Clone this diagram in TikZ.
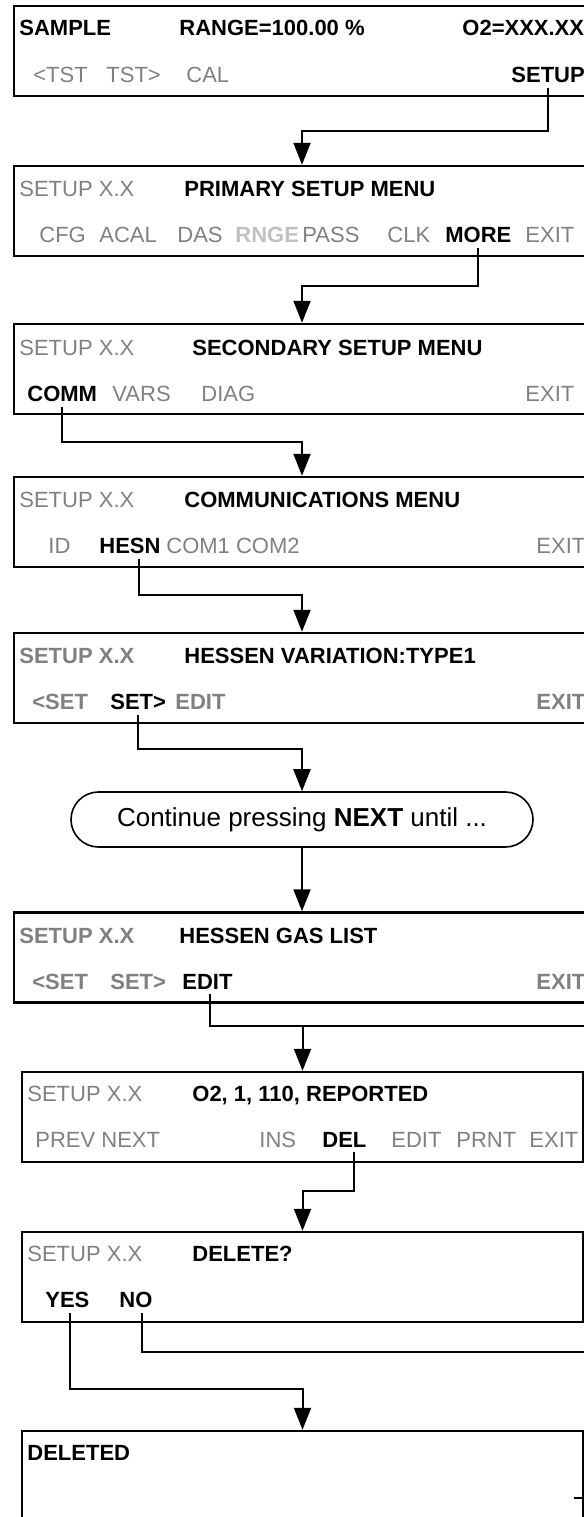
\documentclass[tikz,border=0pt]{standalone}
\usepackage{fontspec}
\setmainfont{Liberation Sans}
\usetikzlibrary{arrows.meta, calc, shapes.misc}
\definecolor{keydim}{RGB}{128,128,128}
\definecolor{keyoff}{RGB}{192,192,192}
\newcommand{\lcd}{\fontsize{11}{13}\selectfont}

\begin{document}
\begin{tikzpicture}[x=0.5pt, y=-0.5pt,
  screen/.style={rectangle, draw=black, line width=1.2pt, minimum height=45pt, inner sep=0pt},
  wide/.style={screen, minimum width=288pt},
  narrow/.style={screen, minimum width=280.5pt},
  key/.style={anchor=base west, inner sep=0pt, font=\lcd\bfseries},
  dim/.style={anchor=base west, inner sep=0pt, font=\lcd, text=keydim},
  dimb/.style={key, text=keydim},
  off/.style={key, text=keyoff},
  note/.style={rounded rectangle, draw=black, line width=0.8pt, minimum width=231pt, minimum height=27.5pt, inner sep=0pt, font=\fontsize{13}{15}\selectfont},
  link/.style={-{Triangle[length=11pt, width=8.5pt]}, line width=1pt},
  wire/.style={line width=1pt}
]
\path[use as bounding box, clip] (0,0) rectangle (584,1517);

% screens
\node[wide] (b1) at (302,51) {};
\node[wide] (b2) at (302,211) {};
\node[wide] (b3) at (302,369) {};
\node[wide] (b4) at (302,522) {};
\node[wide] (b5) at (302,678) {};
\node[note] (cont) at (302,819.5) {Continue pressing \textbf{NEXT} until ...};
\node[wide] (b6) at (302,957.5) {};
\node[narrow] (b7) at (302.5,1117) {};
\node[narrow] (b8) at (302.5,1277) {};
\node[narrow] (b9) at (302.5,1476) {};

% sample display
\node[key] (smp) at (19,35) {SAMPLE};
\node[key] (rng) at (179,35) {RANGE=100.00 \%};
\node[key] (conc) at (462,35) {O2=XXX.XX};
\node[dim] (tstl) at (33,82) {<TST};
\node[dim] (tstr) at (106,82) {TST>};
\node[dim] (cal) at (186,82) {CAL};
\node[key] (setup) at (511,82) {SETUP};

% primary setup
\node[dim] (v2) at (19,196) {SETUP X.X};
\node[key] (t2) at (184,196) {PRIMARY SETUP MENU};
\node[dim] (cfg) at (39,242) {CFG};
\node[dim] (acal) at (99,242) {ACAL};
\node[dim] (das) at (177,242) {DAS};
\node[off] (rnge) at (235,242) {RNGE};
\node[dim] (pass) at (302,242) {PASS};
\node[dim] (clk) at (387,242) {CLK};
\node[key] (more) at (445,242) {MORE};
\node[dim] (x2) at (525,242) {EXIT};

% secondary setup
\node[dim] (v3) at (19,355) {SETUP X.X};
\node[key] (t3) at (192,355) {SECONDARY SETUP MENU};
\node[key] (comm) at (27,401) {COMM};
\node[dim] (vars) at (112,401) {VARS};
\node[dim] (diag) at (201,401) {DIAG};
\node[dim] (x3) at (525,401) {EXIT};

% communications
\node[dim] (v4) at (19,507) {SETUP X.X};
\node[key] (t4) at (184,507) {COMMUNICATIONS MENU};
\node[dim] (id) at (48,553) {ID};
\node[key] (hesn) at (99,553) {HESN};
\node[dim] (com) at (166,553) {COM1 COM2};
\node[dim] (x4) at (536,553) {EXIT};

% hessen variation
\node[dimb] (v5) at (19,663) {SETUP X.X};
\node[key] (t5) at (184,663) {HESSEN VARIATION:TYPE1};
\node[dimb] (prv5) at (32,709) {<SET};
\node[key] (nxt5) at (110,709) {SET>};
\node[dimb] (ed5) at (175,709) {EDIT};
\node[dimb] (x5) at (536,709) {EXIT};

% gas list
\node[dimb] (v6) at (19,943) {SETUP X.X};
\node[key] (t6) at (179,943) {HESSEN GAS LIST};
\node[dimb] (prv6) at (32,989) {<SET};
\node[dimb] (nxt6) at (110,989) {SET>};
\node[key] (ed6) at (182,989) {EDIT};
\node[dimb] (x6) at (536,989) {EXIT};

% gas entry
\node[dim] (v7) at (27,1101) {SETUP X.X};
\node[key] (t7) at (192,1101) {O2, 1, 110, REPORTED};
\node[dim] (pn) at (35,1147) {PREV NEXT};
\node[dim] (ins) at (259,1147) {INS};
\node[key] (del) at (322,1147) {DEL};
\node[dim] (ed7) at (391,1147) {EDIT};
\node[dim] (prnt) at (456,1147) {PRNT};
\node[dim] (x7) at (529,1147) {EXIT};

% confirm
\node[dim] (v8) at (27,1261) {SETUP X.X};
\node[key] (t8) at (192,1261) {DELETE?};
\node[key] (yes) at (45,1307) {YES};
\node[key] (no) at (119,1307) {NO};

\node[key] (done) at (27,1460) {DELETED};

% connectors
\coordinate (ret) at (610,1352);
\coordinate (back) at (610,1498);
\draw[link] ([xshift=-0.25pt, yshift=-2.5pt]setup.south) |- ([yshift=17pt]b2.north) -- (b2.north);
\draw[link] ([yshift=-2.5pt]more.south) |- ([yshift=18.5pt]b3.north) -- (b3.north);
\draw[link] ([yshift=-2.5pt]comm.south) |- ([yshift=17pt]b4.north) -- (b4.north);
\draw[link] ([xshift=4.5pt, yshift=-2.5pt]hesn.south) |- ([yshift=18.5pt]b5.north) -- (b5.north);
\draw[link] ([yshift=-2.5pt]nxt5.south) |- ([yshift=21pt]cont.north) -- (cont.north);
\draw[link] (cont.south) -- (b6.north);
\draw[link] ([xshift=1.5pt, yshift=-2.5pt]ed6.south) |- ([yshift=22.5pt]b7.north) -- (b7.north);
\draw[link] ([xshift=5pt, yshift=-2.5pt]del.south) |- ([yshift=20pt]b8.north) -- (b8.north);
\draw[link] ([xshift=1.5pt, yshift=-2.5pt]yes.south) |- ([yshift=20.5pt]b9.north) -- (b9.north);
\draw[wire] ([xshift=3.25pt, yshift=-2.5pt]no.south) |- (ret) |- ([yshift=22.5pt]b7.north);
\draw[wire] ([xshift=-5pt, yshift=-11pt]b9.east) -- (back);
\end{tikzpicture}
\end{document}
